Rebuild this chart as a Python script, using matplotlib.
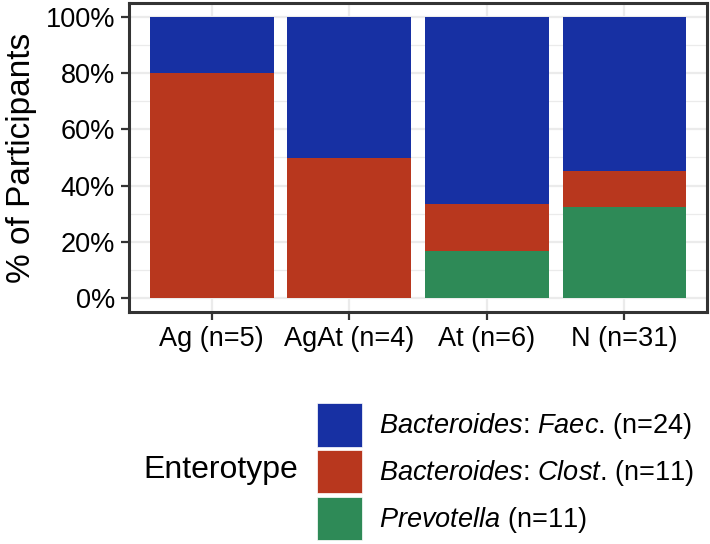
import numpy as np
import matplotlib
matplotlib.use("Agg")
import matplotlib.pyplot as plt
from matplotlib.patches import Patch
from matplotlib.ticker import MultipleLocator, PercentFormatter

plt.rcParams['font.family'] = ['Liberation Sans', 'DejaVu Sans']
plt.rcParams['mathtext.fontset'] = 'custom'
plt.rcParams['mathtext.rm'] = 'Liberation Sans'
plt.rcParams['mathtext.it'] = 'Liberation Sans:italic'

# data: participant counts per group and enterotype
groups = ['Ag (n=5)', 'AgAt (n=4)', 'At (n=6)', 'N (n=31)']
prevotella = np.array([0, 0, 1, 10])
clost = np.array([4, 2, 1, 4])
faec = np.array([1, 2, 4, 17])

legend_labels = [r'$\mathit{Bacteroides}$: $\mathit{Faec}$. (n=24)',
                 r'$\mathit{Bacteroides}$: $\mathit{Clost}$. (n=11)',
                 r'$\mathit{Prevotella}$ (n=11)']

col_faec = '#1730A3'
col_clost = '#B8371E'
col_prev = '#2E8A57'

total = prevotella + clost + faec
p_prev = prevotella / total
p_clost = clost / total
p_faec = faec / total

fig = plt.figure(figsize=(7.1, 5.44), dpi=100)
ax = fig.add_axes([129/710, 1 - 312/544, 578/710, 309/544])

x = np.arange(len(groups))
w = 0.9
ax.bar(x, p_prev, w, color=col_prev, zorder=3)
ax.bar(x, p_clost, w, bottom=p_prev, color=col_clost, zorder=3)
ax.bar(x, p_faec, w, bottom=p_prev + p_clost, color=col_faec, zorder=3)

ax.set_xlim(-0.6, len(groups) - 0.4)
ax.set_ylim(-0.05, 1.05)
ax.set_xticks(x)
ax.set_xticklabels(groups)
ax.yaxis.set_major_locator(MultipleLocator(0.2))
ax.yaxis.set_minor_locator(MultipleLocator(0.1))
ax.yaxis.set_major_formatter(PercentFormatter(1.0, decimals=0))

ax.grid(True, which='major', color='#EBEBEB', lw=1.6, zorder=0)
ax.grid(True, which='minor', axis='y', color='#EBEBEB', lw=0.9, zorder=0)
ax.tick_params(which='minor', length=0)
ax.tick_params(which='major', length=6, width=1.6, color='#333333',
               labelsize=19.5, labelcolor='black', pad=4)
for s in ax.spines.values():
    s.set_visible(True)
    s.set_color('#333333')
    s.set_linewidth(2.2)
    s.set_zorder(5)

ax.set_ylabel('% of Participants', fontsize=24, labelpad=6)

handles = [Patch(facecolor=col_faec, edgecolor='white', lw=0.5),
           Patch(facecolor=col_clost, edgecolor='white', lw=0.5),
           Patch(facecolor=col_prev, edgecolor='white', lw=0.5)]
fig.legend(handles, legend_labels, loc='upper left',
           bbox_to_anchor=(317/710, 1 - 403/544), bbox_transform=fig.transFigure,
           frameon=False, fontsize=19.5, handlelength=1.65, handleheight=2.1,
           labelspacing=0.12, handletextpad=0.65, borderpad=0, borderaxespad=0)
fig.text(143/710, 1 - 470/544, 'Enterotype', fontsize=23, ha='left', va='center')

fig.savefig('out.png', dpi=100)
